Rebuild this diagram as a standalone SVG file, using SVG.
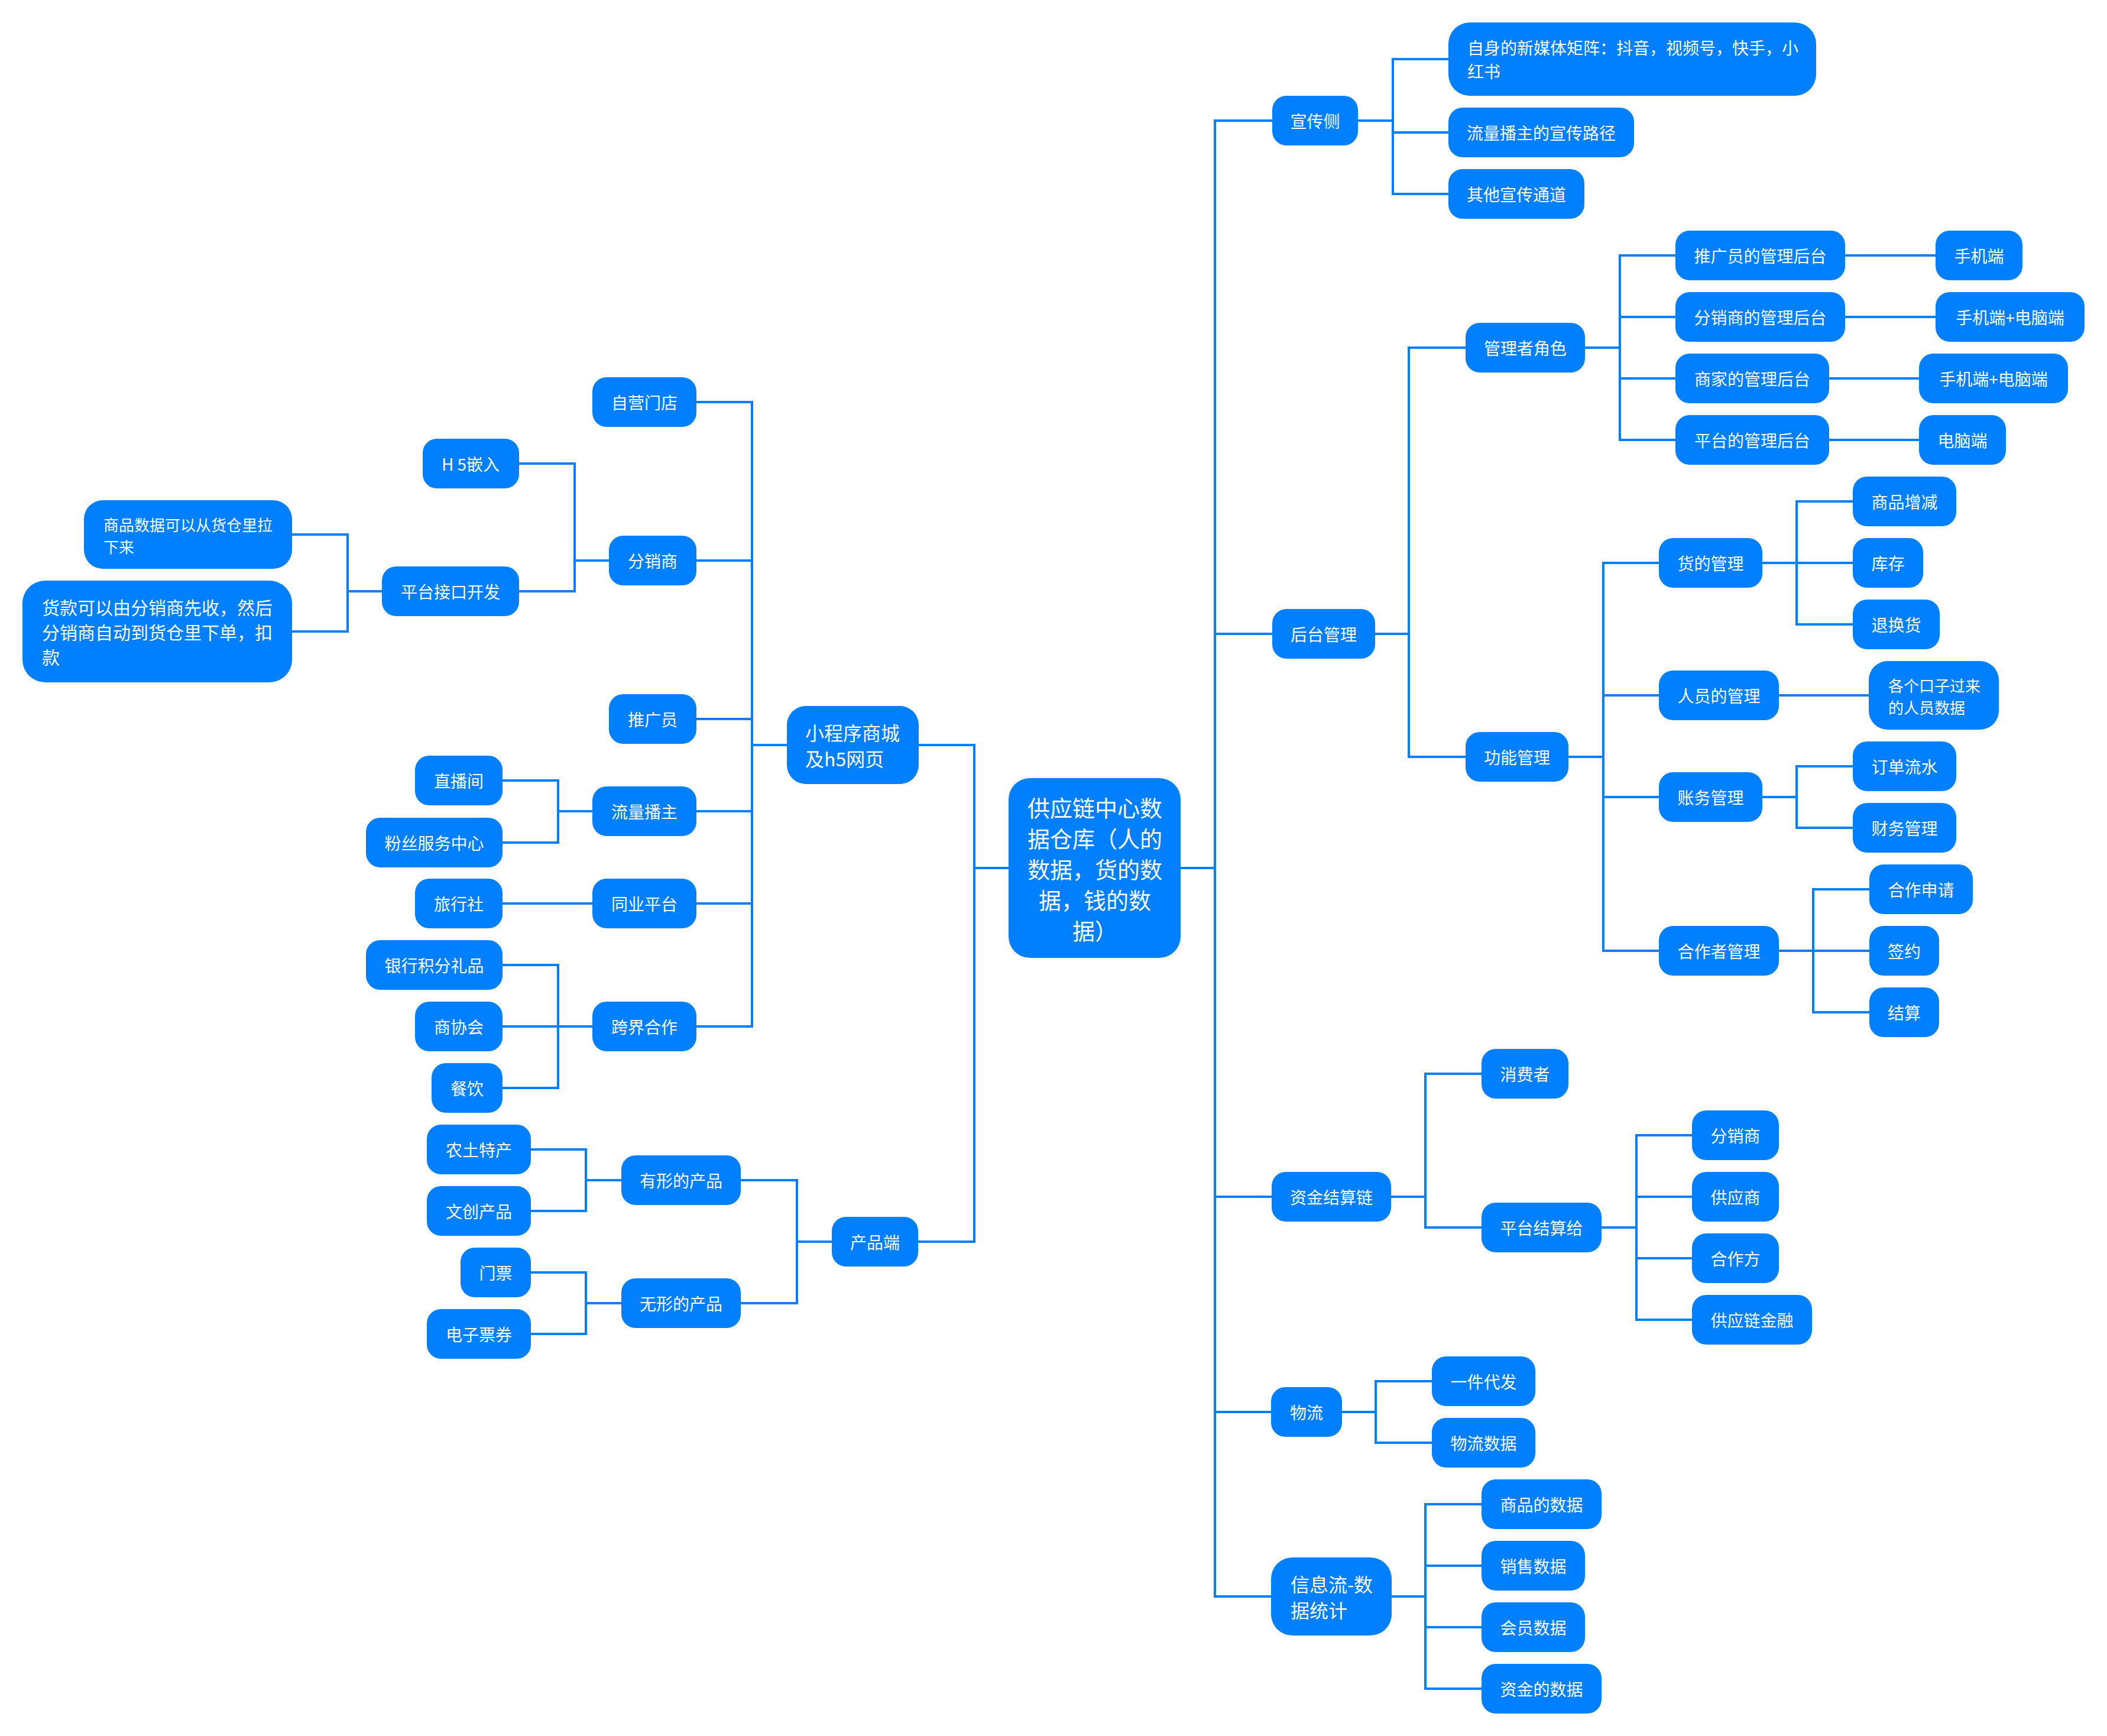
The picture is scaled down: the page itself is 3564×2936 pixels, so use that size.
<svg xmlns="http://www.w3.org/2000/svg" width="3564" height="2936" viewBox="0 0 3564 2936">
<style>
.n rect{fill:#0080ff}
.t{font-family:"Noto Sans CJK SC","Noto Sans",sans-serif;font-size:28px;fill:#ffffff;text-anchor:middle;dominant-baseline:central}
.l{text-anchor:start}
.e path{fill:none;stroke:#0080ff;stroke-width:4;stroke-linejoin:miter}
</style>
<rect width="3564" height="2936" fill="#ffffff"/>
<g class="e" id="connectors">
<path d="M1706 1468H1648V1260H1554"/>
<path d="M1706 1468H1648V2100H1553"/>
<path d="M1331 1260H1272V680H1178"/>
<path d="M1331 1260H1272V948H1178"/>
<path d="M1331 1260H1272V1216H1178"/>
<path d="M1331 1260H1272V1372H1178"/>
<path d="M1331 1260H1272V1528H1178"/>
<path d="M1331 1260H1272V1736H1178"/>
<path d="M1030 948H972V784H878"/>
<path d="M1030 948H972V1000H878"/>
<path d="M646 1000H588V904H494"/>
<path d="M646 1000H588V1068H494"/>
<path d="M1002 1372H944V1320H850"/>
<path d="M1002 1372H944V1425H850"/>
<path d="M1002 1528H850"/>
<path d="M1002 1736H944V1632H850"/>
<path d="M1002 1736H850"/>
<path d="M1002 1736H944V1840H850"/>
<path d="M1407 2100H1348V1996H1253"/>
<path d="M1407 2100H1348V2204H1253"/>
<path d="M1051 1996H991V1944H898"/>
<path d="M1051 1996H991V2048H898"/>
<path d="M1051 2204H991V2152H898"/>
<path d="M1051 2204H991V2256H898"/>
<path d="M1997 1468H2055V204H2152"/>
<path d="M1997 1468H2055V1072H2152"/>
<path d="M1997 1468H2055V2024H2151"/>
<path d="M1997 1468H2055V2388H2150"/>
<path d="M1997 1468H2055V2700H2150"/>
<path d="M2297 204H2356V100H2450"/>
<path d="M2297 204H2356V224H2450"/>
<path d="M2297 204H2356V328H2450"/>
<path d="M2326 1072H2383V588H2479"/>
<path d="M2326 1072H2383V1280H2479"/>
<path d="M2681 588H2740V432H2834"/>
<path d="M2681 588H2740V536H2834"/>
<path d="M2681 588H2740V640H2834"/>
<path d="M2681 588H2740V744H2834"/>
<path d="M3121 432H3274"/>
<path d="M3121 536H3274"/>
<path d="M3094 640H3246"/>
<path d="M3094 744H3246"/>
<path d="M2653 1280H2712V952H2806"/>
<path d="M2653 1280H2712V1176H2806"/>
<path d="M2653 1280H2712V1348H2806"/>
<path d="M2653 1280H2712V1608H2806"/>
<path d="M2981 952H3039V848H3134"/>
<path d="M2981 952H3134"/>
<path d="M2981 952H3039V1056H3134"/>
<path d="M3009 1176H3161"/>
<path d="M2981 1348H3039V1296H3134"/>
<path d="M2981 1348H3039V1400H3134"/>
<path d="M3009 1608H3067V1504H3162"/>
<path d="M3009 1608H3162"/>
<path d="M3009 1608H3067V1712H3162"/>
<path d="M2353 2024H2411V1816H2506"/>
<path d="M2353 2024H2411V2076H2506"/>
<path d="M2709 2076H2768V1920H2862"/>
<path d="M2709 2076H2768V2024H2862"/>
<path d="M2709 2076H2768V2128H2862"/>
<path d="M2709 2076H2768V2232H2862"/>
<path d="M2270 2388H2327V2336H2422"/>
<path d="M2270 2388H2327V2440H2422"/>
<path d="M2354 2700H2411V2544H2506"/>
<path d="M2354 2700H2411V2648H2506"/>
<path d="M2354 2700H2411V2752H2506"/>
<path d="M2354 2700H2411V2856H2506"/>
</g>

<g class="n" id="center"><rect x="1706" y="1316" width="291" height="304" rx="36"/>
<text class="t" style="font-size:38px"><tspan x="1852" y="1364">供应链中心数</tspan><tspan x="1852" y="1416">据仓库（人的</tspan><tspan x="1852" y="1468">数据，货的数</tspan><tspan x="1852" y="1520">据，钱的数</tspan><tspan x="1852" y="1572">据）</tspan></text></g>

<g class="n" id="miniprogram"><rect x="1331" y="1194" width="223" height="132" rx="32"/>
<text class="t l" style="font-size:32px"><tspan x="1362" y="1238">小程序商城</tspan><tspan x="1362" y="1282">及h5网页</tspan></text></g>
<g class="n" id="product-end"><rect x="1407" y="2058" width="146" height="84" rx="24"/><text class="t" x="1480" y="2100">产品端</text></g>

<g class="n" id="self-store"><rect x="1002" y="638" width="176" height="84" rx="24"/><text class="t" x="1090" y="680">自营门店</text></g>
<g class="n" id="distributor"><rect x="1030" y="906" width="148" height="84" rx="24"/><text class="t" x="1104" y="948">分销商</text></g>
<g class="n" id="promoter"><rect x="1030" y="1174" width="148" height="84" rx="24"/><text class="t" x="1104" y="1216">推广员</text></g>
<g class="n" id="streamer"><rect x="1002" y="1330" width="176" height="84" rx="24"/><text class="t" x="1090" y="1372">流量播主</text></g>
<g class="n" id="peer-platform"><rect x="1002" y="1486" width="176" height="84" rx="24"/><text class="t" x="1090" y="1528">同业平台</text></g>
<g class="n" id="crossover"><rect x="1002" y="1694" width="176" height="84" rx="24"/><text class="t" x="1090" y="1736">跨界合作</text></g>

<g class="n" id="h5-embed"><rect x="715" y="742" width="163" height="84" rx="24"/><text class="t" x="796" y="784">H 5嵌入</text></g>
<g class="n" id="api-dev"><rect x="646" y="958" width="232" height="84" rx="24"/><text class="t" x="762" y="1000">平台接口开发</text></g>
<g class="n" id="goods-data-pull"><rect x="142" y="846" width="352" height="116" rx="32"/>
<text class="t l" style="font-size:26px"><tspan x="175" y="886">商品数据可以从货仓里拉</tspan><tspan x="175" y="923">下来</tspan></text></g>
<g class="n" id="payment-note"><rect x="38" y="982" width="456" height="172" rx="38"/>
<text class="t l" style="font-size:30px"><tspan x="71" y="1026">货款可以由分销商先收，然后</tspan><tspan x="71" y="1068">分销商自动到货仓里下单，扣</tspan><tspan x="71" y="1110">款</tspan></text></g>

<g class="n" id="live-room"><rect x="702" y="1278" width="148" height="84" rx="24"/><text class="t" x="776" y="1320">直播间</text></g>
<g class="n" id="fan-center"><rect x="619" y="1383" width="231" height="84" rx="24"/><text class="t" x="734.5" y="1425">粉丝服务中心</text></g>
<g class="n" id="travel-agency"><rect x="702" y="1486" width="148" height="84" rx="24"/><text class="t" x="776" y="1528">旅行社</text></g>
<g class="n" id="bank-gifts"><rect x="619" y="1590" width="231" height="84" rx="24"/><text class="t" x="734.5" y="1632">银行积分礼品</text></g>
<g class="n" id="chamber"><rect x="702" y="1694" width="148" height="84" rx="24"/><text class="t" x="776" y="1736">商协会</text></g>
<g class="n" id="catering"><rect x="730" y="1798" width="120" height="84" rx="24"/><text class="t" x="790" y="1840">餐饮</text></g>

<g class="n" id="tangible"><rect x="1051" y="1954" width="202" height="84" rx="24"/><text class="t" x="1152" y="1996">有形的产品</text></g>
<g class="n" id="intangible"><rect x="1051" y="2162" width="202" height="84" rx="24"/><text class="t" x="1152" y="2204">无形的产品</text></g>
<g class="n" id="local-specialty"><rect x="722" y="1902" width="176" height="84" rx="24"/><text class="t" x="810" y="1944">农土特产</text></g>
<g class="n" id="cultural"><rect x="722" y="2006" width="176" height="84" rx="24"/><text class="t" x="810" y="2048">文创产品</text></g>
<g class="n" id="ticket"><rect x="779" y="2110" width="119" height="84" rx="24"/><text class="t" x="838.5" y="2152">门票</text></g>
<g class="n" id="e-ticket"><rect x="722" y="2214" width="176" height="84" rx="24"/><text class="t" x="810" y="2256">电子票券</text></g>

<g class="n" id="publicity"><rect x="2152" y="162" width="145" height="84" rx="24"/><text class="t" x="2224.5" y="204">宣传侧</text></g>
<g class="n" id="backend"><rect x="2152" y="1030" width="174" height="84" rx="24"/><text class="t" x="2239" y="1072">后台管理</text></g>
<g class="n" id="settlement"><rect x="2151" y="1982" width="202" height="84" rx="24"/><text class="t" x="2252" y="2024">资金结算链</text></g>
<g class="n" id="logistics"><rect x="2150" y="2346" width="120" height="84" rx="24"/><text class="t" x="2210" y="2388">物流</text></g>
<g class="n" id="info-flow"><rect x="2150" y="2634" width="204" height="132" rx="36"/>
<text class="t l" style="font-size:32px"><tspan x="2183" y="2678">信息流-数</tspan><tspan x="2183" y="2722">据统计</tspan></text></g>

<g class="n" id="own-media"><rect x="2450" y="38" width="622" height="124" rx="36"/>
<text class="t l"><tspan x="2482" y="80">自身的新媒体矩阵：抖音，视频号，快手，小</tspan><tspan x="2482" y="120">红书</tspan></text></g>
<g class="n" id="streamer-path"><rect x="2450" y="182" width="314" height="84" rx="24"/><text class="t" x="2607" y="224">流量播主的宣传路径</text></g>
<g class="n" id="other-channels"><rect x="2450" y="286" width="230" height="84" rx="24"/><text class="t" x="2565" y="328">其他宣传通道</text></g>

<g class="n" id="manager-roles"><rect x="2479" y="546" width="202" height="84" rx="24"/><text class="t" x="2580" y="588">管理者角色</text></g>
<g class="n" id="function-mgmt"><rect x="2479" y="1238" width="174" height="84" rx="24"/><text class="t" x="2566" y="1280">功能管理</text></g>
<g class="n" id="promoter-admin"><rect x="2834" y="390" width="287" height="84" rx="24"/><text class="t" x="2977.5" y="432">推广员的管理后台</text></g>
<g class="n" id="promoter-admin-dev"><rect x="3274" y="390" width="147" height="84" rx="24"/><text class="t" x="3347.5" y="432">手机端</text></g>
<g class="n" id="distributor-admin"><rect x="2834" y="494" width="287" height="84" rx="24"/><text class="t" x="2977.5" y="536">分销商的管理后台</text></g>
<g class="n" id="distributor-admin-dev"><rect x="3274" y="494" width="252" height="84" rx="24"/><text class="t" x="3400" y="536">手机端+电脑端</text></g>
<g class="n" id="merchant-admin"><rect x="2834" y="598" width="260" height="84" rx="24"/><text class="t" x="2964" y="640">商家的管理后台</text></g>
<g class="n" id="merchant-admin-dev"><rect x="3246" y="598" width="252" height="84" rx="24"/><text class="t" x="3372" y="640">手机端+电脑端</text></g>
<g class="n" id="platform-admin"><rect x="2834" y="702" width="260" height="84" rx="24"/><text class="t" x="2964" y="744">平台的管理后台</text></g>
<g class="n" id="platform-admin-dev"><rect x="3246" y="702" width="147" height="84" rx="24"/><text class="t" x="3319.5" y="744">电脑端</text></g>

<g class="n" id="goods-mgmt"><rect x="2806" y="910" width="175" height="84" rx="24"/><text class="t" x="2893.5" y="952">货的管理</text></g>
<g class="n" id="goods-add"><rect x="3134" y="806" width="175" height="84" rx="24"/><text class="t" x="3221.5" y="848">商品增减</text></g>
<g class="n" id="inventory"><rect x="3134" y="910" width="119" height="84" rx="24"/><text class="t" x="3193.5" y="952">库存</text></g>
<g class="n" id="returns"><rect x="3134" y="1014" width="147" height="84" rx="24"/><text class="t" x="3207.5" y="1056">退换货</text></g>
<g class="n" id="staff-mgmt"><rect x="2806" y="1134" width="203" height="84" rx="24"/><text class="t" x="2907.5" y="1176">人员的管理</text></g>
<g class="n" id="staff-data"><rect x="3161" y="1118" width="220" height="116" rx="32"/>
<text class="t l" style="font-size:26px"><tspan x="3194" y="1158">各个口子过来</tspan><tspan x="3194" y="1195">的人员数据</tspan></text></g>
<g class="n" id="account-mgmt"><rect x="2806" y="1306" width="175" height="84" rx="24"/><text class="t" x="2893.5" y="1348">账务管理</text></g>
<g class="n" id="order-flow"><rect x="3134" y="1254" width="175" height="84" rx="24"/><text class="t" x="3221.5" y="1296">订单流水</text></g>
<g class="n" id="finance-mgmt"><rect x="3134" y="1358" width="175" height="84" rx="24"/><text class="t" x="3221.5" y="1400">财务管理</text></g>
<g class="n" id="partner-mgmt"><rect x="2806" y="1566" width="203" height="84" rx="24"/><text class="t" x="2907.5" y="1608">合作者管理</text></g>
<g class="n" id="partner-apply"><rect x="3162" y="1462" width="175" height="84" rx="24"/><text class="t" x="3249.5" y="1504">合作申请</text></g>
<g class="n" id="sign"><rect x="3162" y="1566" width="118" height="84" rx="24"/><text class="t" x="3221" y="1608">签约</text></g>
<g class="n" id="settle"><rect x="3162" y="1670" width="118" height="84" rx="24"/><text class="t" x="3221" y="1712">结算</text></g>

<g class="n" id="consumer"><rect x="2506" y="1774" width="147" height="84" rx="24"/><text class="t" x="2579.5" y="1816">消费者</text></g>
<g class="n" id="platform-pays"><rect x="2506" y="2034" width="203" height="84" rx="24"/><text class="t" x="2607.5" y="2076">平台结算给</text></g>
<g class="n" id="pay-distributor"><rect x="2862" y="1878" width="147" height="84" rx="24"/><text class="t" x="2935.5" y="1920">分销商</text></g>
<g class="n" id="pay-supplier"><rect x="2862" y="1982" width="147" height="84" rx="24"/><text class="t" x="2935.5" y="2024">供应商</text></g>
<g class="n" id="pay-partner"><rect x="2862" y="2086" width="147" height="84" rx="24"/><text class="t" x="2935.5" y="2128">合作方</text></g>
<g class="n" id="pay-finance"><rect x="2862" y="2190" width="203" height="84" rx="24"/><text class="t" x="2963.5" y="2232">供应链金融</text></g>

<g class="n" id="dropship"><rect x="2422" y="2294" width="175" height="84" rx="24"/><text class="t" x="2509.5" y="2336">一件代发</text></g>
<g class="n" id="logistics-data"><rect x="2422" y="2398" width="175" height="84" rx="24"/><text class="t" x="2509.5" y="2440">物流数据</text></g>

<g class="n" id="goods-data"><rect x="2506" y="2502" width="203" height="84" rx="24"/><text class="t" x="2607.5" y="2544">商品的数据</text></g>
<g class="n" id="sales-data"><rect x="2506" y="2606" width="175" height="84" rx="24"/><text class="t" x="2593.5" y="2648">销售数据</text></g>
<g class="n" id="member-data"><rect x="2506" y="2710" width="175" height="84" rx="24"/><text class="t" x="2593.5" y="2752">会员数据</text></g>
<g class="n" id="fund-data"><rect x="2506" y="2814" width="203" height="84" rx="24"/><text class="t" x="2607.5" y="2856">资金的数据</text></g>
</svg>
